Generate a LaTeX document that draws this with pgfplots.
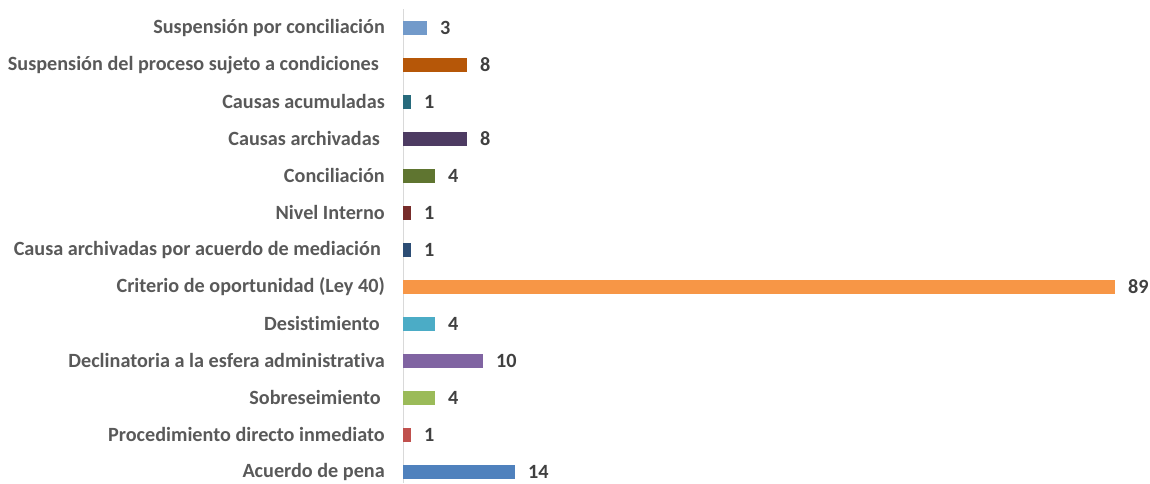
\documentclass[border=0pt]{standalone}
\usepackage{pgfplots}
\pgfplotsset{compat=1.18}
\usepackage{fontspec}
\setmainfont{Carlito}[Ligatures=NoCommon]
\definecolor{c0}{HTML}{4F81BD}
\definecolor{c1}{HTML}{C0504D}
\definecolor{c2}{HTML}{9BBB59}
\definecolor{c3}{HTML}{8064A2}
\definecolor{c4}{HTML}{4BACC6}
\definecolor{c5}{HTML}{F79646}
\definecolor{c6}{HTML}{2C4D75}
\definecolor{c7}{HTML}{772C2A}
\definecolor{c8}{HTML}{5F7530}
\definecolor{c9}{HTML}{4D3B62}
\definecolor{c10}{HTML}{276A7C}
\definecolor{c11}{HTML}{B65708}
\definecolor{c12}{HTML}{729ACA}
\definecolor{lab}{HTML}{595959}
\definecolor{val}{HTML}{404040}
\newcommand{\trail}[1]{\rule{#1}{0pt}}
\begin{document}
\begin{tikzpicture}
\begin{axis}[
  at={(403pt,0pt)}, anchor=south west,
  scale only axis, width=712pt, height=473.6pt,
  xmin=0, xmax=89, ymin=-0.3, ymax=12.5,
  axis x line=none,
  axis y line*=left,
  y axis line style={draw=black!15, line width=1pt, -},
  ytick={0,...,12},
  major tick length=0pt,
  yticklabels={Acuerdo de pena, Procedimiento directo inmediato, Sobreseimiento\trail{4pt}, Declinatoria a la esfera administrativa, Desistimiento\trail{5pt}, Criterio de oportunidad (Ley 40), Causa archivadas por acuerdo de mediación\trail{4pt}, Nivel Interno, Conciliación, Causas archivadas\trail{5pt}, Causas acumuladas, Suspensión del proceso sujeto a condiciones\trail{6pt}, Suspensión por conciliación},
  yticklabel style={font=\fontsize{20.2}{23}\selectfont\bfseries, text=lab, anchor=east, inner xsep=0pt, xshift=-18pt},
  clip=false,
  /pgf/number format/assume math mode=true,
  every axis plot/.append style={xbar, draw=none, bar width=14pt, bar shift=0pt},
  point meta=x,
  nodes near coords,
  nodes near coords style={font=\fontsize{20.2}{23}\selectfont\bfseries, text=val, anchor=west, inner xsep=0pt, xshift=13pt},
]
\addplot[fill=c0] coordinates {(14,0)};
\addplot[fill=c1] coordinates {(1,1)};
\addplot[fill=c2] coordinates {(4,2)};
\addplot[fill=c3] coordinates {(10,3)};
\addplot[fill=c4] coordinates {(4,4)};
\addplot[fill=c5] coordinates {(89,5)};
\addplot[fill=c6] coordinates {(1,6)};
\addplot[fill=c7] coordinates {(1,7)};
\addplot[fill=c8] coordinates {(4,8)};
\addplot[fill=c9] coordinates {(8,9)};
\addplot[fill=c10] coordinates {(1,10)};
\addplot[fill=c11] coordinates {(8,11)};
\addplot[fill=c12] coordinates {(3,12)};
\end{axis}
\pgfresetboundingbox
\path (0,0) rectangle (1150pt,483pt);
\end{tikzpicture}
\end{document}
